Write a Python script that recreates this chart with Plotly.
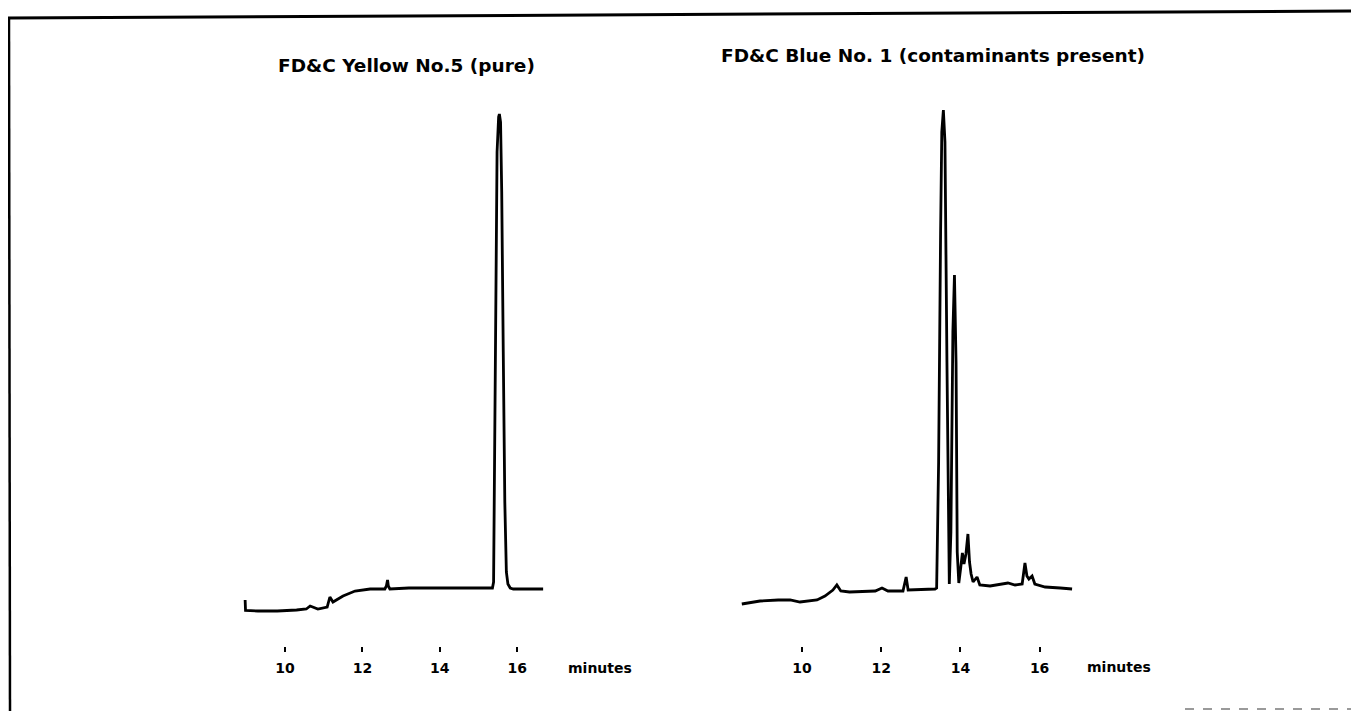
import plotly.graph_objects as go

# ---- data (time in minutes, detector signal in arbitrary units) ----
yellow_time = [8.97, 8.98, 9.30, 9.80, 10.30, 10.55, 10.65, 10.72, 10.85, 11.09, 11.16, 11.24,
               11.50, 11.81, 12.20, 12.58, 12.62, 12.65, 12.67, 12.71, 13.20, 14.00, 14.80,
               15.36, 15.39, 15.41, 15.44, 15.48, 15.52, 15.54, 15.57, 15.60, 15.64, 15.68,
               15.72, 15.76, 15.82, 15.90, 16.30, 16.67]
yellow_signal = [12, 1.5, 1, 1, 2, 3, 6, 5, 3, 5, 15, 10,
                 16, 21, 23, 23, 26, 32, 26, 23, 24, 24, 24,
                 24, 30, 120, 330, 460, 495, 498, 490, 420, 260, 110,
                 40, 28, 24, 23, 23, 23]

blue_time = [8.48, 8.94, 9.40, 9.70, 9.95, 10.38, 10.58, 10.78, 10.88, 10.98, 11.20, 11.85,
             12.02, 12.17, 12.55, 12.63, 12.68, 13.36, 13.40, 13.45, 13.50, 13.53, 13.57,
             13.61, 13.66, 13.70, 13.72, 13.76, 13.81, 13.85, 13.89, 13.92, 13.96, 14.01,
             14.05, 14.09, 14.14, 14.19, 14.23, 14.27, 14.32, 14.42, 14.49, 14.75, 15.20,
             15.38, 15.56, 15.63, 15.68, 15.73, 15.81, 15.88, 16.14, 16.52, 16.82]
blue_signal = [8, 11, 12, 12, 10, 12, 16, 22, 27, 21, 20, 21,
               24, 21, 21, 35, 22, 23, 24, 150, 380, 480, 502,
               470, 250, 40, 28, 80, 280, 337, 250, 60, 29, 45,
               59, 48, 58, 78, 50, 38, 30, 35, 27, 26, 29,
               27, 28, 49, 36, 33, 36, 28, 25, 24, 23]

tick_vals = [10, 12, 14, 16]
tick_labels = ["10", "12", "14", "16"]
titles = ["FD&C Yellow No.5 (pure)", "FD&C Blue No. 1 (contaminants present)"]
axis_unit = "minutes"

W, H = 1359, 711
OFF = 8  # page body margin offset
FONT = "DejaVu Sans"

fig = go.Figure()
fig.add_trace(go.Scatter(x=yellow_time, y=yellow_signal, mode="lines",
                         line=dict(color="black", width=2.8), xaxis="x", yaxis="y",
                         hoverinfo="skip", showlegend=False))
fig.add_trace(go.Scatter(x=blue_time, y=blue_signal, mode="lines",
                         line=dict(color="black", width=2.8), xaxis="x2", yaxis="y2",
                         hoverinfo="skip", showlegend=False))

def px_x(p):
    return (p - OFF) / W

def px_y(p):
    return 1 - (p - OFF) / H

xcommon = dict(showgrid=False, zeroline=False, showline=False, ticks="outside",
               ticklen=5, tickwidth=2, tickcolor="black", tickvals=tick_vals,
               ticktext=["<b>" + t + "</b>" for t in tick_labels],
               tickfont=dict(family=FONT, size=14, color="black"),
               ticklabelstandoff=4)
ycommon = dict(showgrid=False, zeroline=False, showline=False, showticklabels=False,
               ticks="", range=[-34, 512], domain=[px_y(646), px_y(100)])

fig.update_layout(
    width=W, height=H,
    margin=dict(l=0, r=0, t=0, b=0),
    paper_bgcolor="white", plot_bgcolor="white",
    xaxis=dict(**xcommon, domain=[px_x(230), px_x(560)], range=[8.579, 17.106], anchor="y"),
    yaxis=dict(**ycommon, anchor="x"),
    xaxis2=dict(**xcommon, domain=[px_x(730), px_x(1080)], range=[8.182, 17.020], anchor="y2"),
    yaxis2=dict(**ycommon, anchor="x2"),
    font=dict(family=FONT, color="black"),
)

ann_font = dict(family=FONT, size=14, color="black")
title_font = dict(family=FONT, size=18.5, color="black")
fig.add_annotation(text="<b>" + titles[0] + "</b>", xref="paper", yref="paper",
                   x=px_x(406), y=px_y(66), xanchor="center", yanchor="middle",
                   showarrow=False, font=title_font)
fig.add_annotation(text="<b>" + titles[1] + "</b>", xref="paper", yref="paper",
                   x=px_x(933), y=px_y(55), xanchor="center", yanchor="middle",
                   showarrow=False, font=title_font)
fig.add_annotation(text="<b>" + axis_unit + "</b>", xref="paper", yref="paper",
                   x=px_x(566), y=px_y(668), xanchor="left", yanchor="middle",
                   showarrow=False, font=ann_font)
fig.add_annotation(text="<b>" + axis_unit + "</b>", xref="paper", yref="paper",
                   x=px_x(1085), y=px_y(667), xanchor="left", yanchor="middle",
                   showarrow=False, font=ann_font)

# scanned page frame
fig.add_shape(type="line", xref="paper", yref="paper", x0=px_x(8), y0=px_y(18),
              x1=px_x(1367), y1=px_y(11), line=dict(color="black", width=3))
fig.add_shape(type="line", xref="paper", yref="paper", x0=px_x(9), y0=px_y(17),
              x1=px_x(10), y1=px_y(719), line=dict(color="black", width=2.5))
fig.add_shape(type="line", xref="paper", yref="paper", x0=px_x(1185), y0=px_y(709),
              x1=px_x(1367), y1=px_y(709), line=dict(color="#9a9a9a", width=2, dash="dash"))

fig.write_html("out.html")
